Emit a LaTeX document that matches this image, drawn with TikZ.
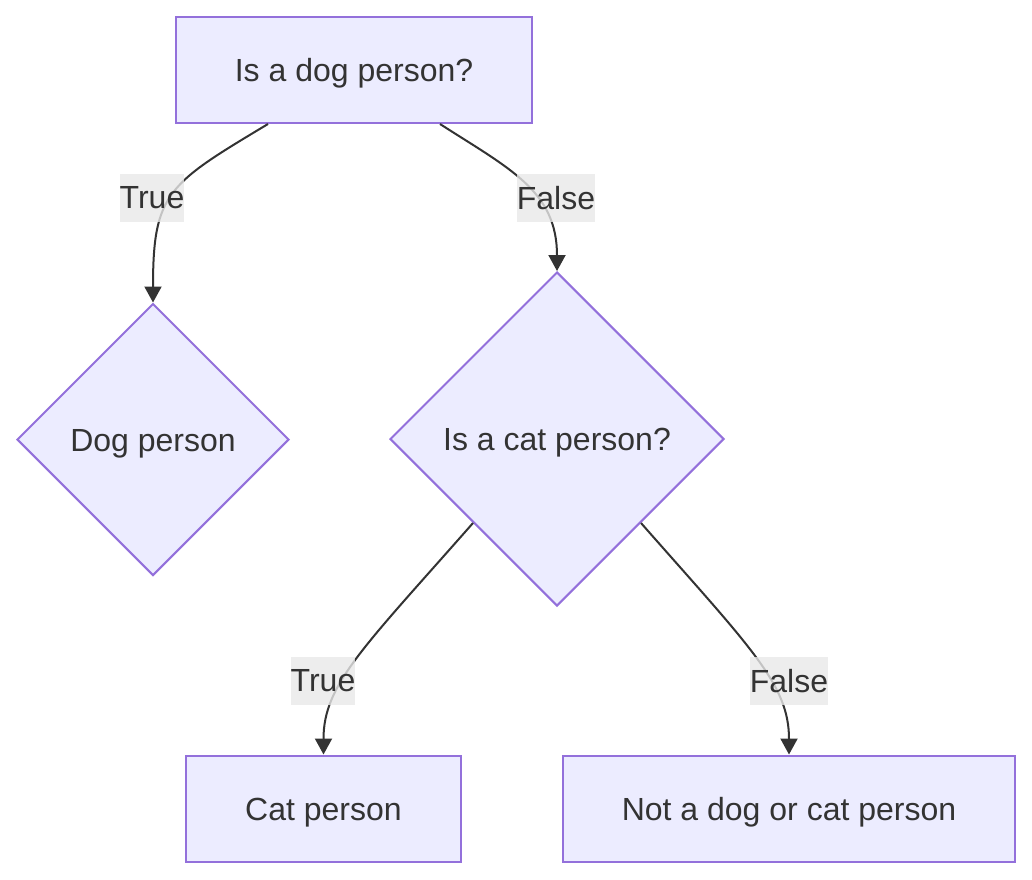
\documentclass[tikz,border=0pt]{standalone}
\usepackage{fontspec}
\setmainfont{Liberation Sans}
\usetikzlibrary{arrows.meta, shapes.geometric}
\definecolor{NodeFill}{HTML}{ECECFF}
\definecolor{NodeLine}{HTML}{9370DB}
\definecolor{EdgeLine}{HTML}{333333}
\definecolor{LabelFill}{HTML}{E8E8E8}

\begin{document}
\begin{tikzpicture}[
    x=0.5pt, y=-0.5pt,
    box/.style={draw=NodeLine,fill=NodeFill,line width=1pt,text=EdgeLine,
                font=\fontsize{16}{19}\selectfont,minimum height=53pt,inner sep=0pt,
                text height=15pt,text depth=3.5pt},
    decision/.style={diamond,aspect=1,draw=NodeLine,fill=NodeFill,line width=1pt,
                text=EdgeLine,font=\fontsize{16}{19}\selectfont,inner sep=0pt,
                text height=15pt,text depth=3.5pt},
    elabel/.style={fill=LabelFill,fill opacity=0.8,text opacity=1,text=EdgeLine,
                font=\fontsize{16}{19}\selectfont,inner xsep=0pt,minimum height=24pt},
    arr/.style={-{Triangle[length=8pt,width=8.5pt]},EdgeLine,line width=1pt}
  ]
    \useasboundingbox (0,0) rectangle (1032,879);
    \node[box,minimum width=178pt] (qdog) at (354,70) {Is a dog person?};
    \node[decision,minimum size=136pt] (dogp) at (153,439.5) {Dog person};
    \node[decision,minimum size=167pt] (qcat) at (557,439) {Is a cat person?};
    \node[box,minimum width=137.5pt] (catp) at (323.5,808.5) {Cat person};
    \node[box,minimum width=226pt] (neither) at (789,808.5) {Not a dog or cat person};
    % connectors
    \draw[arr] ([xshift=-43pt]qdog.south) .. controls +(-100,60) and +(0,-110) .. (dogp.north);
    \draw[arr] ([xshift=43pt]qdog.south) .. controls +(70,45) and +(0,-80) .. (qcat.north);
    \draw[arr] (qcat.225) .. controls +(-110,125) and +(0,-70) .. (catp.north);
    \draw[arr] (qcat.315) .. controls +(110,125) and +(0,-70) .. (neither.north);
    % edge labels
    \node[elabel] (lt1) at (152,198) {True};
    \node[elabel] (lf1) at (556,198) {False};
    \node[elabel] (lt2) at (323,681) {True};
    \node[elabel] (lf2) at (789,681) {False};
  \end{tikzpicture}
\end{document}
